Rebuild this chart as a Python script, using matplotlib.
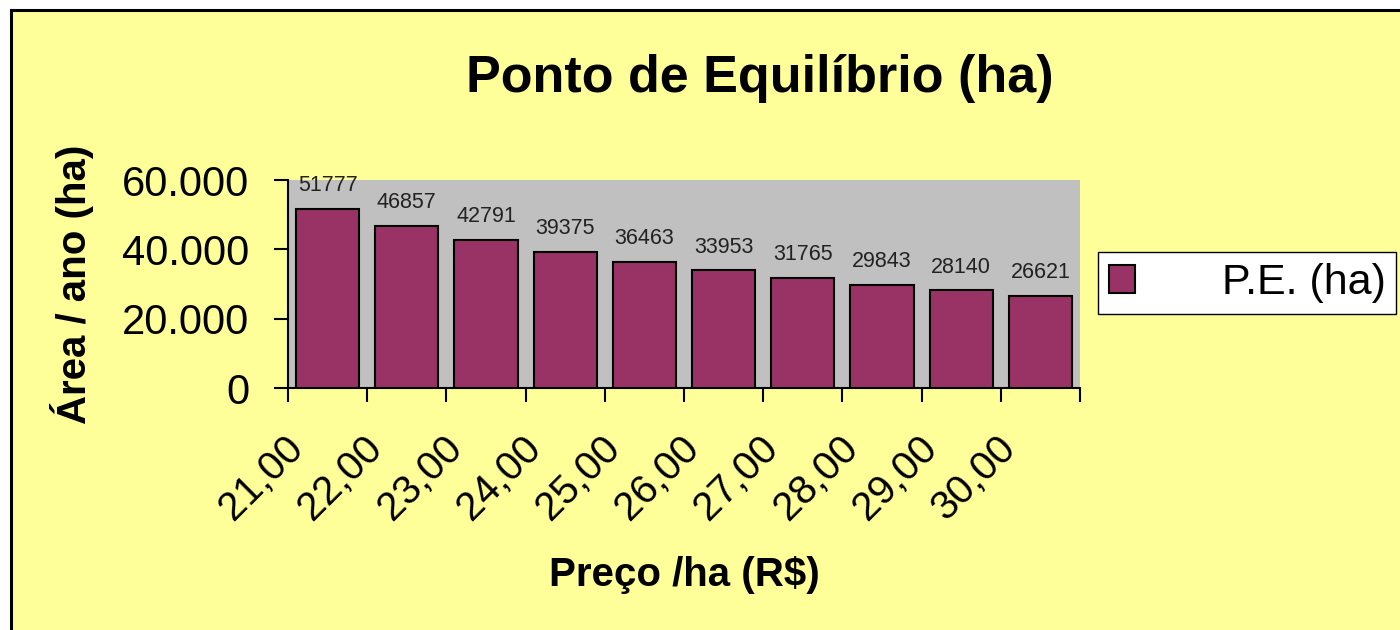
import matplotlib
matplotlib.use("Agg")
import matplotlib.pyplot as plt
import matplotlib.patches as mpatches
import matplotlib.transforms as mtransforms
from matplotlib.ticker import FuncFormatter, FixedLocator

plt.rcParams['font.family'] = ['Liberation Sans', 'DejaVu Sans']

# data
precos = ["21,00", "22,00", "23,00", "24,00", "25,00",
          "26,00", "27,00", "28,00", "29,00", "30,00"]
pe_ha = [51777, 46857, 42791, 39375, 36463, 33953, 31765, 29843, 28140, 26621]
serie_nome = "P.E. (ha)"

amarelo = "#FFFF99"
cinza = "#C0C0C0"
vinho = "#993366"

fig = plt.figure(figsize=(14, 6.3), dpi=100, facecolor="white")

# yellow chart area with black border (cropped at right / bottom)
borda = mpatches.Rectangle((11 / 1400, -0.1), 1.2, 1.1 - 10 / 630,
                           transform=fig.transFigure, facecolor=amarelo,
                           edgecolor="black", linewidth=2.2, zorder=-1)
fig.add_artist(borda)

ax = fig.add_axes([288 / 1400, 1 - 388 / 630, 792 / 1400, 208 / 630])
ax.set_facecolor(cinza)

x = list(range(len(precos)))
barras = ax.bar(x, pe_ha, width=0.8, color=vinho, edgecolor="black",
                linewidth=1.5, label=serie_nome, zorder=3)
ax.bar_label(barras, labels=[str(v) for v in pe_ha], padding=9,
             fontsize=15.5, color="#222222", clip_on=False)

ax.set_xlim(-0.5, len(precos) - 0.5)
ax.set_ylim(0, 60000)
ax.set_yticks([0, 20000, 40000, 60000])
ax.yaxis.set_major_formatter(FuncFormatter(lambda v, p: f"{v:,.0f}".replace(",", ".")))
ax.tick_params(axis="y", length=10, width=1.5, pad=18, labelsize=30)

# grid only at 20.000 and 40.000
ax.yaxis.grid(True, color="black", linewidth=1.5, zorder=1)
ax.set_axisbelow(True)
for t in ax.yaxis.get_major_ticks():
    if t.get_loc() in (0, 60000):
        t.gridline.set_visible(False)

# category labels at centres, tick marks at boundaries
ax.set_xticks(x)
ax.set_xticklabels(precos, rotation=45, ha="center", va="center",
                   rotation_mode="anchor", fontsize=29)
ax.tick_params(axis="x", which="major", length=0, pad=0)
ax.xaxis.set_minor_locator(FixedLocator([i - 0.5 for i in range(len(precos) + 1)]))
ax.tick_params(axis="x", which="minor", length=10, width=1.5)
desloca = mtransforms.ScaledTranslation(-0.66, -0.90, fig.dpi_scale_trans)
for lab in ax.get_xticklabels():
    lab.set_transform(lab.get_transform() + desloca)

for s in ("top", "right"):
    ax.spines[s].set_visible(False)
for s in ("left", "bottom"):
    ax.spines[s].set_linewidth(1.5)

ax.set_ylabel("Área / ano (ha)", fontsize=29, fontweight="bold")
ax.yaxis.set_label_coords(-0.245, 0.5)
ax.set_xlabel("Preço /ha (R$)", fontsize=29, fontweight="bold", va="top")
ax.xaxis.set_label_coords(0.5, -0.81)

fig.text(760 / 1400, 1 - 92 / 630, "Ponto de Equilíbrio (ha)", fontsize=37.5,
         fontweight="bold", ha="center", va="baseline")

leg = ax.legend(loc="center left", bbox_to_anchor=(1098 / 1400, 1 - 283 / 630),
                bbox_transform=fig.transFigure, borderaxespad=0, fontsize=31,
                fancybox=False, framealpha=1, edgecolor="black",
                handlelength=0.62, handleheight=0.62, handletextpad=2.0,
                borderpad=0.25)
leg.get_frame().set_linewidth(1.0)

fig.savefig("out.png", dpi=100, facecolor="white")
